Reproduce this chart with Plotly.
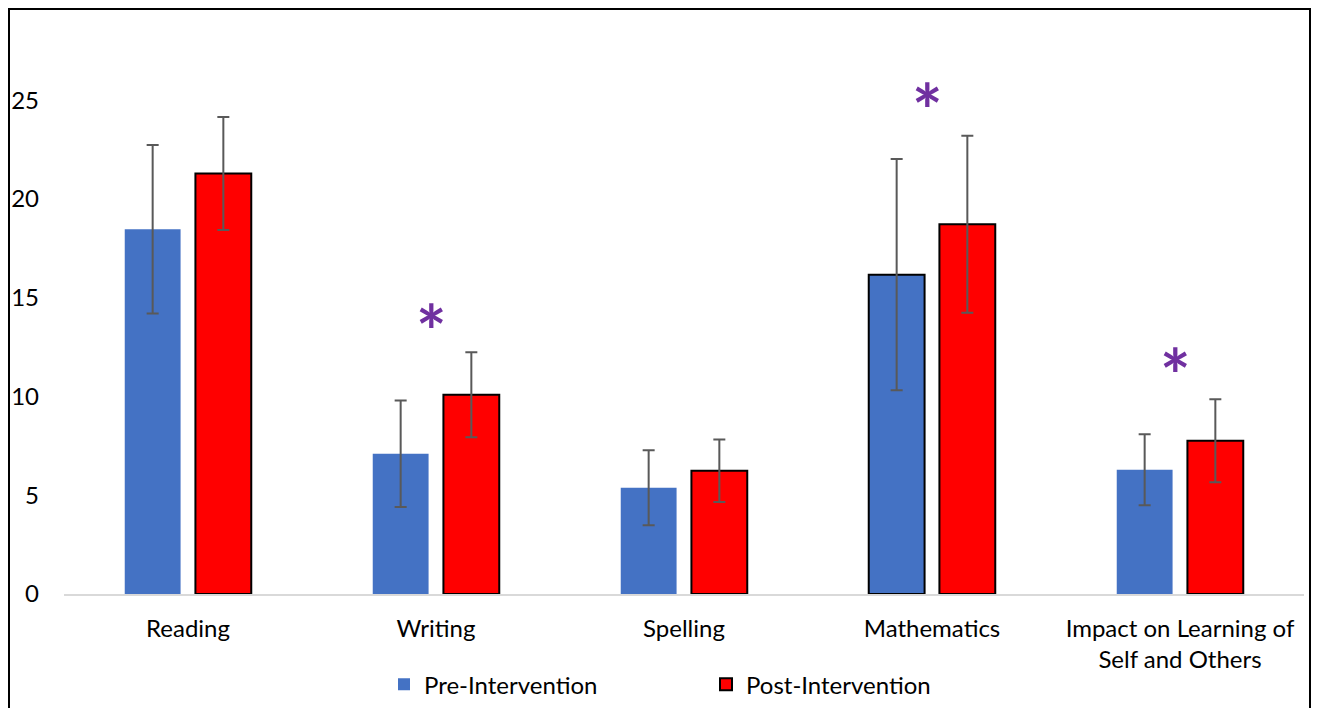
import plotly.graph_objects as go

categories = ["Reading", "Writing", "Spelling", "Mathematics", "Impact on Learning of<br>Self and Others"]
pre_values = [18.47, 7.10, 5.38, 16.17, 6.29]
pre_errors = [4.27, 2.70, 1.90, 5.85, 1.80]
post_values = [21.29, 10.09, 6.24, 18.72, 7.76]
post_errors = [2.86, 2.15, 1.58, 4.48, 2.10]
star_categories = ["Writing", "Mathematics", "Impact on Learning of<br>Self and Others"]
star_y = [13.9, 25.1, 11.7]
pre_outline = [0, 0, 0, 2, 0]

W, H = 1312, 700
ML, MT = 56, 33
pw, ph = 1240, 553.3
MR = W - ML - pw
MB = H - MT - ph

FONT = "Lato, Carlito, Calibri, sans-serif"

fig = go.Figure()
fig.add_trace(go.Bar(
    x=categories, y=pre_values, name="Pre-Intervention",
    marker=dict(color="#4472C4", line=dict(color="black", width=pre_outline)),
    error_y=dict(type="data", array=pre_errors, color="#595959", thickness=2, width=6),
))
fig.add_trace(go.Bar(
    x=categories, y=post_values, name="Post-Intervention",
    marker=dict(color="#FF0000", line=dict(color="black", width=2)),
    error_y=dict(type="data", array=post_errors, color="#595959", thickness=2, width=6),
))

for c, yv in zip(star_categories, star_y):
    fig.add_annotation(x=c, y=yv, text="<b>*</b>", showarrow=False, xshift=-5, yshift=-12,
                       font=dict(size=72, color="#7030A0", family=FONT),
                       yanchor="middle")

# outer border (figure pixel coords converted to paper)
def px(x):
    return (x - ML) / pw

def py(y):
    return (H - MB - y) / ph

fig.add_shape(type="rect", xref="paper", yref="paper",
              x0=px(1), x1=px(1302), y0=py(730), y1=py(1),
              line=dict(color="black", width=2), fillcolor="rgba(0,0,0,0)")

fig.update_layout(
    width=W, height=H,
    margin=dict(l=ML, r=MR, t=MT, b=MB, autoexpand=False),
    paper_bgcolor="white", plot_bgcolor="white",
    barmode="group", bargap=0.43, bargroupgap=0.21,
    font=dict(family=FONT, size=24, color="black"),
    showlegend=True,
    legend=dict(orientation="h", x=px(376), xanchor="left", y=py(677),
                yanchor="middle", font=dict(size=24), entrywidth=277,
                itemwidth=30),
    xaxis=dict(showline=True, linecolor="#D9D9D9", linewidth=2, showgrid=False,
               ticks="", tickfont=dict(size=24), ticklabelstandoff=12, automargin=False),
    yaxis=dict(range=[0, 28], tickvals=[0, 5, 10, 15, 20, 25], showgrid=False,
               zeroline=False, showline=False, ticks="", tickfont=dict(size=24),
               ticklabelstandoff=24, automargin=False),
)

fig.write_html("out.html")
